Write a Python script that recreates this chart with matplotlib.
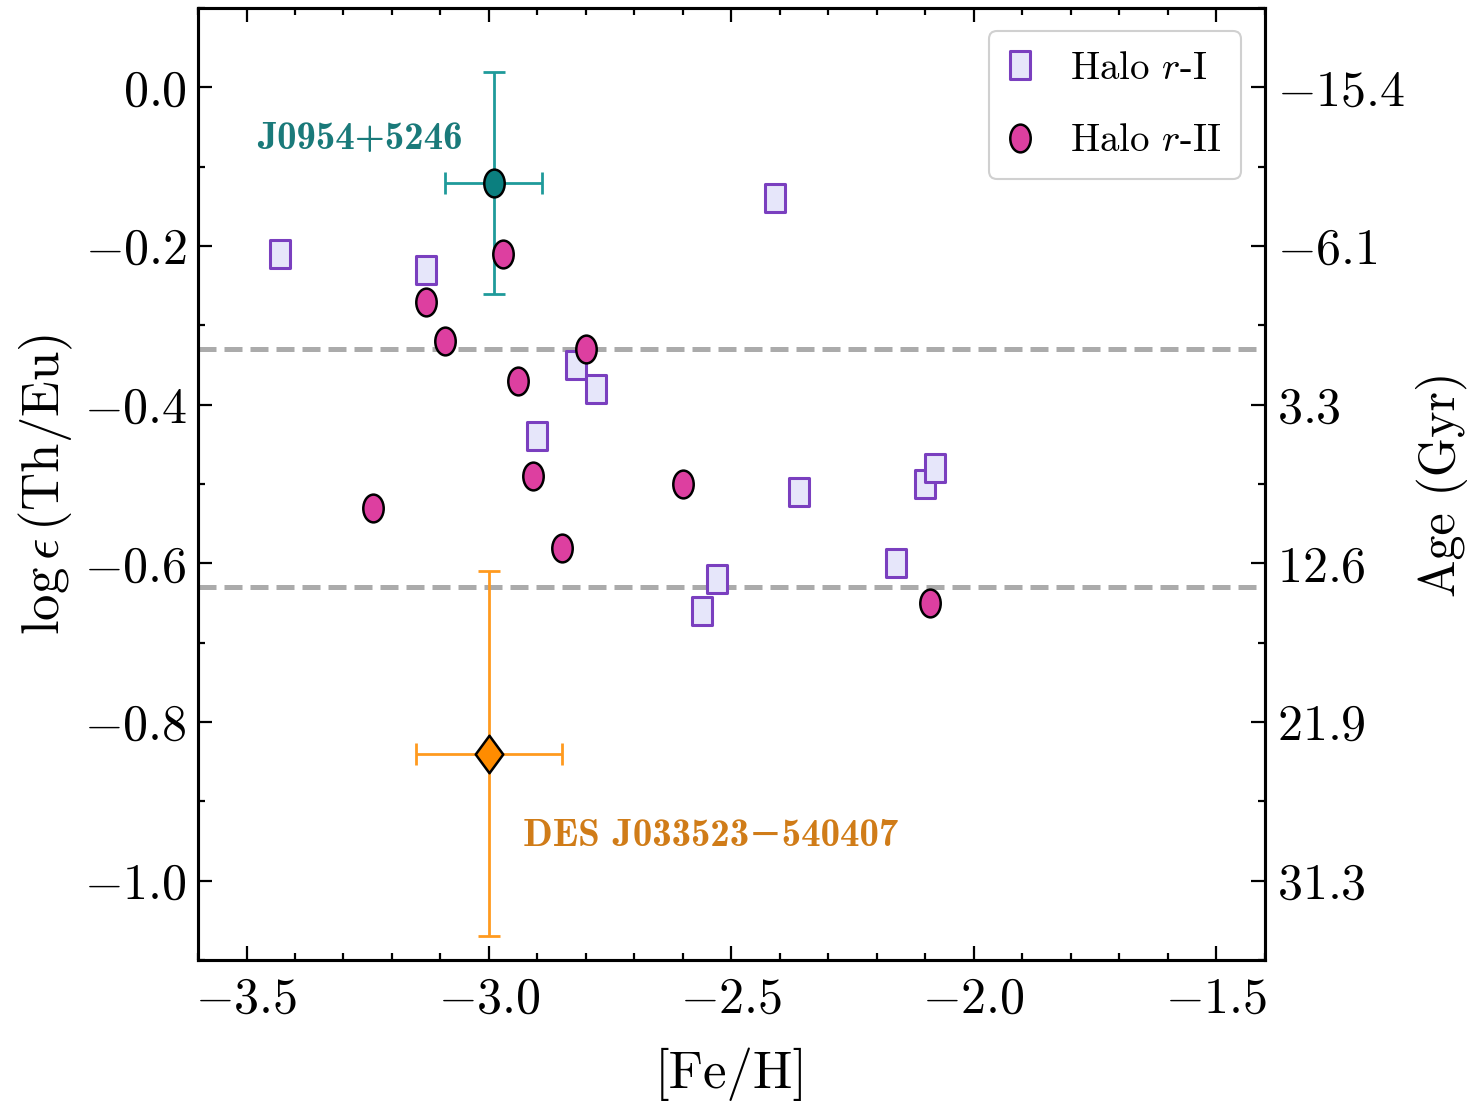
import numpy as np
import matplotlib
matplotlib.use("Agg")
import matplotlib.pyplot as plt
from matplotlib.path import Path
from matplotlib.ticker import MultipleLocator, FixedLocator, FixedFormatter

plt.rcParams["mathtext.fontset"] = "cm"
plt.rcParams["font.family"] = "serif"
plt.rcParams["font.serif"] = ["cmr10"]
plt.rcParams["axes.formatter.use_mathtext"] = True
plt.rcParams["axes.unicode_minus"] = True

# Halo r-I stars
ri_feh = [-3.43, -3.13, -2.41, -2.82, -2.78, -2.90, -2.36, -2.10, -2.08, -2.16, -2.53, -2.56]
ri_theu = [-0.21, -0.23, -0.14, -0.35, -0.38, -0.44, -0.51, -0.50, -0.48, -0.60, -0.62, -0.66]

# Halo r-II stars
rii_feh = [-2.97, -3.13, -3.09, -2.80, -2.94, -2.91, -2.60, -3.24, -2.85, -2.09]
rii_theu = [-0.21, -0.27, -0.32, -0.33, -0.37, -0.49, -0.50, -0.53, -0.58, -0.65]

# J0954+5246
j0954_feh, j0954_theu = -2.99, -0.12
j0954_xerr, j0954_yerr = 0.10, 0.14

# DES J033523-540407
des_feh, des_theu = -3.00, -0.84
des_xerr, des_yerr = 0.15, 0.23

# reference lines: 0 Gyr and 14 Gyr
age_lines = [-0.33, -0.63]

# right-hand age axis
age_tick_pos = [0.0, -0.2, -0.4, -0.6, -0.8, -1.0]
age_tick_labels = ["-15.4", "-6.1", "3.3", "12.6", "21.9", "31.3"]

ASPECT = 1.36


def ellipse_marker():
    c = Path.unit_circle()
    v = c.vertices.copy()
    v[:, 0] /= ASPECT
    return Path(v, c.codes)


def rect_marker():
    w, h = 1.0 / ASPECT, 1.0
    v = [(-w, -h), (w, -h), (w, h), (-w, h), (-w, -h)]
    return Path(v, [Path.MOVETO, Path.LINETO, Path.LINETO, Path.LINETO, Path.CLOSEPOLY])


def diamond_marker():
    w, h = 1.0 / ASPECT, 1.0
    v = [(0, -h), (w, 0), (0, h), (-w, 0), (0, -h)]
    return Path(v, [Path.MOVETO, Path.LINETO, Path.LINETO, Path.LINETO, Path.CLOSEPOLY])


fig = plt.figure(figsize=(14.67, 11.18), dpi=100)
ax = fig.add_axes([0.135, 0.1413, 0.727, 0.8515])

for yl in age_lines:
    ax.axhline(yl, color="#ababab", lw=3.6, ls=(0, (3.6, 1.6)), zorder=1)

ax.plot(ri_feh, ri_theu, ls="none", marker=rect_marker(), ms=20,
        mfc="#e6e6fa", mec="#7a3fbf", mew=2.2, label=r"Halo $r$-I", zorder=3)
ax.plot(rii_feh, rii_theu, ls="none", marker=ellipse_marker(), ms=20,
        mfc="#dd3fa0", mec="black", mew=1.8, label=r"Halo $r$-II", zorder=3)

ax.errorbar(j0954_feh, j0954_theu, xerr=j0954_xerr, yerr=j0954_yerr,
            fmt="none", ecolor="#1f9a9a", elinewidth=2, capsize=8, capthick=2, zorder=2)
ax.plot(j0954_feh, j0954_theu, ls="none", marker=ellipse_marker(), ms=20,
        mfc="#0b7f7f", mec="black", mew=1.8, zorder=4)

ax.errorbar(des_feh, des_theu, xerr=des_xerr, yerr=des_yerr,
            fmt="none", ecolor="#ff9a1f", elinewidth=2, capsize=8, capthick=2, zorder=2)
ax.plot(des_feh, des_theu, ls="none", marker=diamond_marker(), ms=27,
        mfc="#ff8c00", mec="black", mew=1.8, zorder=4)

bold_family = ["cmb10", "DejaVu Serif"]
ax.text(-3.267, -0.066, "J0954+5246", color="#1a7a7a", family=bold_family,
        fontsize=28, ha="center", va="center")
ax.text(-2.93, -0.944, "DES J033523\u2212540407", color="#d07c18", family=bold_family,
        fontsize=28, ha="left", va="center")

ax.set_xlim(-3.6, -1.4)
ax.set_ylim(-1.1, 0.1)
ax.xaxis.set_major_locator(MultipleLocator(0.5))
ax.xaxis.set_minor_locator(MultipleLocator(0.1))
ax.yaxis.set_major_locator(MultipleLocator(0.2))
ax.yaxis.set_minor_locator(MultipleLocator(0.1))
ax.tick_params(which="both", direction="in", top=True, right=False, width=1.6)
ax.tick_params(which="major", length=10, labelsize=36)
ax.tick_params(which="minor", length=5)
ax.tick_params(axis="x", pad=12)
ax.tick_params(axis="y", pad=8)
for s in ax.spines.values():
    s.set_linewidth(2.2)

ax.set_xlabel("[Fe/H]", fontsize=38, labelpad=18)
ax.set_ylabel(r"$\log\epsilon\,(\mathrm{Th/Eu})$", fontsize=38, labelpad=6)

ax2 = ax.twinx()
ax2.set_ylim(ax.get_ylim())
ax2.yaxis.set_major_locator(FixedLocator(age_tick_pos))
ax2.yaxis.set_major_formatter(FixedFormatter(["$" + t + "$" for t in age_tick_labels]))
ax2.yaxis.set_minor_locator(MultipleLocator(0.1))
ax2.tick_params(which="both", direction="in", width=1.6)
ax2.tick_params(which="major", length=10, labelsize=36, pad=9)
ax2.tick_params(which="minor", length=5)
ax2.set_ylabel("Age (Gyr)", fontsize=36, labelpad=8)
for s in ax2.spines.values():
    s.set_linewidth(2.2)

leg = ax.legend(loc="upper right", fontsize=28, frameon=True, fancybox=True,
                framealpha=1, edgecolor="#d0d0d0", handletextpad=1.0,
                borderpad=0.5, labelspacing=0.95, borderaxespad=0.6, handlelength=0.6)
leg.get_frame().set_linewidth(1.5)

fig.savefig("out.png", dpi=100)
